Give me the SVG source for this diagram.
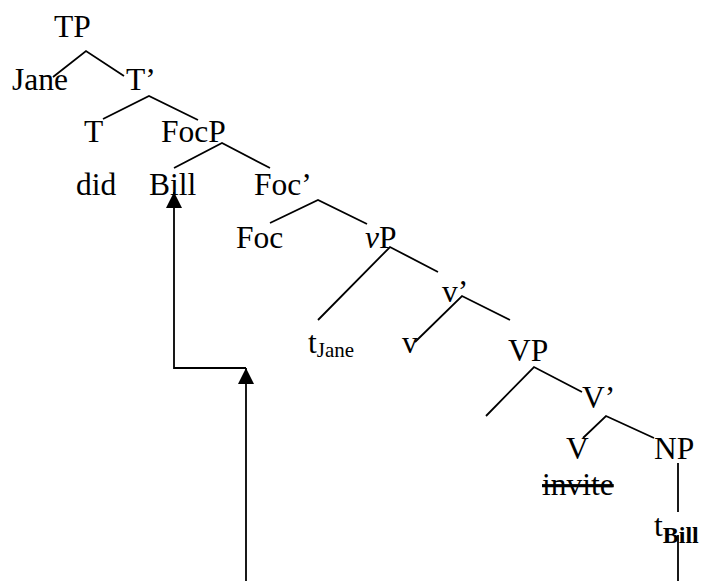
<svg xmlns="http://www.w3.org/2000/svg" width="703" height="581" viewBox="0 0 703 581">
<defs>
<style>
.lbl{font-family:"Liberation Serif","Times New Roman",serif;font-size:31.5px;fill:#000}
.sub{font-size:21px}
.bsub{font-size:24px;font-weight:bold}
.edge{stroke:#000;stroke-width:1.8;fill:none}
.mv{stroke:#000;stroke-width:1.8;fill:none}
</style>
<marker id="ah" viewBox="0 0 16 16" refX="16" refY="8" markerWidth="16" markerHeight="16" markerUnits="userSpaceOnUse" orient="auto">
<path d="M0,0 L16,8 L0,16 z" fill="#000"/>
</marker>
</defs>
<rect width="703" height="581" fill="#fff"/>
<g id="connectors">
<path class="edge" d="M53,77 L86,51 L124,76"/>
<path class="edge" d="M103,119 L149,96 L198,120"/>
<path class="edge" d="M174,168 L222,143 L270,168"/>
<path class="edge" d="M270,223 L318,200 L367,224"/>
<path class="edge" d="M318,320 L390,247 L438,272"/>
<path class="edge" d="M415,342 L462,296 L510,320"/>
<path class="edge" d="M486,416 L534,367 L582,392"/>
<path class="edge" d="M583,438 L606,416 L654,438"/>
<path class="edge" d="M678,463 L678,512"/>
<path class="edge" d="M678,535 L678,581"/>
<path class="mv" d="M246,368 L174,368 L174,192" marker-end="url(#ah)"/>
<path class="mv" d="M246,581 L246,368" marker-end="url(#ah)"/>
</g>
<g id="n-TP"><text class="lbl" x="54" y="37">TP</text></g>
<g id="n-Jane"><text class="lbl" x="12" y="90">Jane</text></g>
<g id="n-Tbar"><text class="lbl" x="126" y="90">T’</text></g>
<g id="n-T"><text class="lbl" x="84" y="142">T</text></g>
<g id="n-FocP"><text class="lbl" x="161" y="142">FocP</text></g>
<g id="n-did"><text class="lbl" x="76" y="195">did</text></g>
<g id="n-Bill"><text class="lbl" x="149" y="195">Bill</text></g>
<g id="n-Focbar"><text class="lbl" x="254" y="195">Foc’</text></g>
<g id="n-Foc"><text class="lbl" x="236" y="248">Foc</text></g>
<g id="n-vP"><text class="lbl" x="365" y="248"><tspan font-style="italic">v</tspan>P</text></g>
<g id="n-vbar"><text class="lbl" x="442" y="302">v’</text></g>
<g id="n-tJane"><text class="lbl" x="308" y="353">t<tspan class="sub" dy="4">Jane</tspan></text></g>
<g id="n-v"><text class="lbl" x="402" y="353">v</text></g>
<g id="n-VP"><text class="lbl" x="508" y="361">VP</text></g>
<g id="n-Vbar"><text class="lbl" x="582" y="408">V’</text></g>
<g id="n-V"><text class="lbl" x="566" y="459">V</text></g>
<g id="n-NP"><text class="lbl" x="654" y="459">NP</text></g>
<g id="n-invite"><text class="lbl" x="542" y="495" text-decoration="line-through">invite</text></g>
<g id="n-tBill"><text class="lbl" x="654" y="536">t<tspan class="bsub" dy="7">Bill</tspan></text></g>
</svg>
